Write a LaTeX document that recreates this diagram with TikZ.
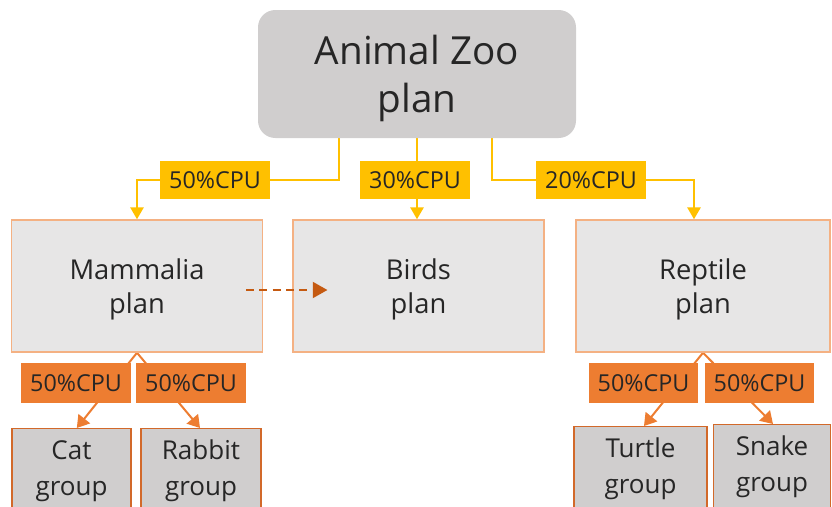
\documentclass[tikz,border=0pt]{standalone}
\usepackage{fontspec}
\setmainfont{Open Sans}
\usetikzlibrary{arrows.meta,positioning,backgrounds}
\definecolor{zoogray}{HTML}{D0CECE}
\definecolor{plangray}{HTML}{E7E6E6}
\definecolor{planedge}{HTML}{F4B183}
\definecolor{cpuyellow}{HTML}{FFC000}
\definecolor{cpuorange}{HTML}{ED7D31}
\definecolor{groupedge}{HTML}{D2692A}
\definecolor{darkorange}{HTML}{C55A11}
\definecolor{inktext}{HTML}{262626}
\newcommand{\tallrow}{\rule{0pt}{1em}}

\begin{document}
\begin{tikzpicture}[
    x=0.75pt, y=-0.75pt,
    root/.style={fill=zoogray, rounded corners=13pt, align=center, inner sep=0pt,
                minimum width=238.5pt, minimum height=96pt, text=inktext,
                font=\fontsize{29}{36}\selectfont},
    plan/.style={draw=planedge, line width=1.1pt, fill=plangray, align=center, inner sep=0pt,
                minimum width=188pt, minimum height=99pt, text=inktext,
                font=\fontsize{20.5}{25.5}\selectfont},
    ycpu/.style={fill=cpuyellow, inner sep=0pt, minimum width=82.5pt, minimum height=28pt,
                text=inktext, font=\fontsize{17.5}{20}\selectfont},
    ocpu/.style={fill=cpuorange, inner sep=0pt, minimum width=82pt, minimum height=30pt,
                text=inktext, font=\fontsize{17.5}{20}\selectfont},
    grp/.style={draw=groupedge, line width=1.1pt, fill=zoogray, align=center, inner sep=0pt,
                minimum height=63pt, anchor=north, text=inktext,
                font=\fontsize{19.5}{27}\selectfont},
    yarr/.style={draw=cpuyellow, line width=1.5pt, -{Triangle[length=9pt,width=10pt]}},
    oarr/.style={draw=cpuorange, line width=1.5pt, -{Triangle[length=9pt,width=11pt]}},
    darr/.style={draw=darkorange, line width=1.5pt, dash pattern=on 6pt off 4pt,
                -{Triangle[length=11pt,width=12pt]}}
]
\useasboundingbox (0,0) rectangle (832,507);
\clip (0,0) rectangle (832,507);

% zoo and plans
\node[root] (zoo) at (417,74) {\tallrow Animal Zoo\\plan};
\node[plan] (mam) at (137,286) {\tallrow Mammalia\\plan};
\node[plan] (birds) at (418.5,286) {\tallrow Birds\\plan};
\node[plan, minimum width=190.5pt] (rep) at (703,286) {\tallrow Reptile\\plan};

% cpu shares
\node[ycpu] (cpumam) at (215,180) {50\%CPU};
\node[ycpu] (cpubirds) at (415,180) {30\%CPU};
\node[ycpu] (cpurep) at (591,180) {20\%CPU};
\node[ocpu] (cpucat) at (76,383) {50\%CPU};
\node[ocpu] (cpurab) at (191,383) {50\%CPU};
\node[ocpu] (cputur) at (643.5,383) {50\%CPU};
\node[ocpu] (cpusna) at (759.5,383) {50\%CPU};

% groups
\node[grp, minimum width=89.25pt] (cat) at (71.5,428) {Cat\\group};
\node[grp, minimum width=90pt] (rabbit) at (201,428) {Rabbit\\group};
\node[grp, minimum width=99.75pt] (turtle) at (640.5,426) {Turtle\\group};
\node[grp, minimum width=87.75pt] (snake) at (772,424) {Snake\\group};

\begin{scope}[on background layer]
\draw[yarr] ([xshift=-58.5pt]zoo.south) |- (cpumam.center) -| (mam.north);
\draw[yarr] (zoo.south) -- (zoo.south |- birds.north);
\draw[yarr] ([xshift=56.25pt]zoo.south) |- (cpurep.center) -| ([xshift=-6.75pt]rep.north);
\draw[oarr] (mam.south) -- ([xshift=4pt]cat.north);
\draw[oarr] (mam.south) -- ([xshift=-0.75pt]rabbit.north);
\draw[oarr] (rep.south) -- ([xshift=2.6pt]turtle.north);
\draw[oarr] (rep.south) -- ([xshift=0.75pt]snake.north);
\end{scope}

\draw[darr] ([xshift=-12.75pt,yshift=-3pt]mam.east) -- ([xshift=26.25pt,yshift=-3pt]birds.west);
\end{tikzpicture}
\end{document}
